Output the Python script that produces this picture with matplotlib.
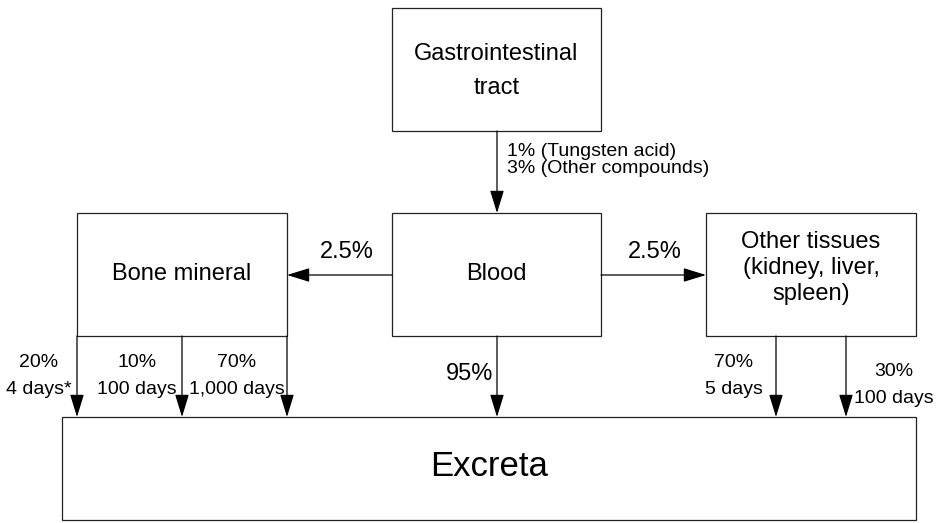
import matplotlib.pyplot as plt
from matplotlib.patches import Rectangle

plt.rcParams['font.family'] = ['Liberation Sans', 'DejaVu Sans']

# ====================
# 1. DATOS DEL DIAGRAMA
# ====================
box_names = ["Gastrointestinal\ntract", "Bone mineral", "Blood",
             "Other tissues\n(kidney, liver,\nspleen)", "Excreta"]
# (x0, y0, x1, y1) en pixeles, eje y hacia abajo
box_pos = [(392, 8, 601, 131), (77, 213, 287, 336), (392, 213, 601, 336),
           (706, 213, 916, 336), (62, 417, 916, 520)]
box_font = [17, 17, 17, 17, 25]
box_spacing = [1.75, 1.2, 1.2, 1.25, 1.2]
box_text_y = [71, 274, 274, 268, 467]

# flechas: (x_inicio, y_inicio, x_fin, y_fin)
arrows = [(497, 131, 497, 213),
          (392, 275, 287, 275),
          (601, 275, 706, 275),
          (77, 336, 77, 417), (182, 336, 182, 417), (287, 336, 287, 417),
          (497, 336, 497, 417),
          (776, 336, 776, 417), (846, 336, 846, 417)]

# etiquetas: (texto, x, y, alineacion, tamaño, interlineado)
labels = [("1% (Tungsten acid)\n3% (Other compounds)", 507, 160, 'left', 14, 1.05),
          ("2.5%", 347, 252, 'center', 17, 1.2),
          ("2.5%", 655, 252, 'center', 17, 1.2),
          ("95%", 493, 374, 'right', 17, 1.2),
          ("20%\n4 days*", 39, 376, 'center', 14, 1.72),
          ("10%\n100 days", 137, 376, 'center', 14, 1.72),
          ("70%\n1,000 days", 237, 376, 'center', 14, 1.72),
          ("70%\n5 days", 734, 376, 'center', 14, 1.72),
          ("30%\n100 days", 894, 385, 'center', 14, 1.72)]

# ====================
# 2. DIBUJO
# ====================
fig = plt.figure(figsize=(9.4, 5.23), dpi=100)
ax = fig.add_axes([0, 0, 1, 1])
ax.set_xlim(0, 940)
ax.set_ylim(523, 0)
ax.axis('off')

for name, (x0, y0, x1, y1), fs, ls, ty in zip(box_names, box_pos, box_font,
                                             box_spacing, box_text_y):
    ax.add_patch(Rectangle((x0, y0), x1 - x0, y1 - y0, fill=False,
                           edgecolor='#222222', lw=0.9))
    ax.text((x0 + x1) / 2, ty, name, ha='center', va='center',
            fontsize=fs, linespacing=ls)

for xs, ys, xe, ye in arrows:
    ax.annotate("", xy=(xe, ye), xytext=(xs, ys),
                arrowprops=dict(arrowstyle='-|>,head_length=1.4,head_width=0.43',
                                color='black', lw=0.9, shrinkA=0, shrinkB=0,
                                mutation_scale=10))

for txt, x, y, ha, fs, ls in labels:
    ax.text(x, y, txt, ha=ha, va='center', fontsize=fs, linespacing=ls,
            multialignment='center' if ha == 'center' else 'left')

fig.savefig("out.png", dpi=100)
